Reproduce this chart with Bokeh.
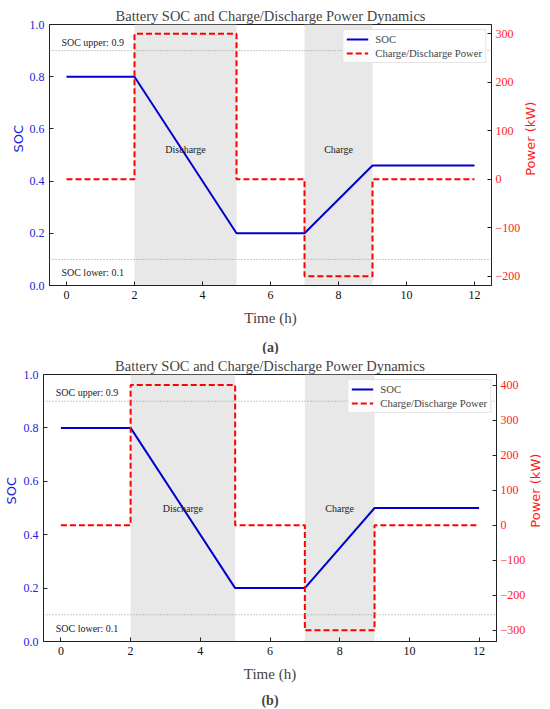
import math
from bokeh.plotting import figure
from bokeh.models import (Range1d, LinearAxis, FixedTicker, BoxAnnotation, Span,
                          Label, Title, Legend, LegendItem, PrintfTickFormatter)
from bokeh.layouts import column, row
from bokeh.core.properties import value
from bokeh.embed import file_html
from bokeh.resources import INLINE

# ---------------- data ----------------
hours = [0, 2, 5, 7, 9, 12]
soc_a = [0.8, 0.8, 0.2, 0.2, 0.46, 0.46]
soc_b = [0.8, 0.8, 0.2, 0.2, 0.5, 0.5]
power_a = [0, 300, 0, -200, 0, 0]      # step "after" values (kW)
power_b = [0, 400, 0, -300, 0, 0]
discharge_window = (2, 5)
charge_window = (7, 9)
soc_upper = 0.9
soc_lower = 0.1
x_ticks = [0, 2, 4, 6, 8, 10, 12]
soc_ticks = [0.0, 0.2, 0.4, 0.6, 0.8, 1.0]
power_ticks_a = [-200, -100, 0, 100, 200, 300]
power_ticks_b = [-300, -200, -100, 0, 100, 200, 300, 400]

SERIF = "Liberation Serif"
SANS = "DejaVu Sans"
BLUE = "#0000cc"
BLUE_T = "#2222dd"
RED = "#ff0000"
RED_T = "#ff1a1a"
FRAME = "#222222"
H = 354


def style_axis(ax, color, ticks, standoff=5):
    ax.ticker = FixedTicker(ticks=ticks)
    ax.major_tick_in = 4
    ax.major_tick_out = 0
    ax.minor_tick_line_color = None
    ax.major_tick_line_color = FRAME
    ax.axis_line_color = FRAME
    ax.major_label_text_font = SERIF
    ax.major_label_text_font_size = "12px"
    ax.major_label_text_color = color
    ax.major_label_standoff = standoff


def side_title(text, color, width, cx, cy):
    """narrow strip holding a vertical axis title that reads bottom-to-top"""
    f = figure(width=width, height=H, output_backend="svg", toolbar_location=None,
               x_range=Range1d(0, width), y_range=Range1d(0, H), min_border=0)
    f.axis.visible = False
    f.grid.visible = False
    f.outline_line_color = None
    f.text(x=[cx], y=[H - cy], text=[text], angle=math.pi / 2,
           text_align="center", text_baseline="middle",
           text_font=value(SANS), text_font_size=value("13px"), text_color=color)
    return f


def panel(soc, power, p_range, p_ticks, caption, width, borders, spacer, phase_y):
    left, right, top, bottom = borders
    p = figure(width=width, height=H, output_backend="svg", toolbar_location=None,
               x_range=Range1d(-0.5, 12.5), y_range=Range1d(0, 1),
               min_border_left=left, min_border_right=right,
               min_border_top=top, min_border_bottom=bottom)
    p.extra_y_ranges = {"power": Range1d(*p_range)}
    p.xgrid.visible = False
    p.ygrid.visible = False
    p.outline_line_color = FRAME
    p.outline_line_width = 1

    p.title.text = "Battery SOC and Charge/Discharge Power Dynamics"
    p.title.text_font = SERIF
    p.title.text_font_size = "14.5px"
    p.title.text_font_style = "normal"
    p.title.align = "center"
    p.title.vertical_align = "middle"
    p.title.standoff = 0

    for lo, hi in (discharge_window, charge_window):
        p.add_layout(BoxAnnotation(left=lo, right=hi, fill_color="#e8e8e8",
                                   fill_alpha=1.0, line_color=None, level="underlay"))

    for loc in (soc_upper, soc_lower):
        p.add_layout(Span(location=loc, dimension="width", line_color="#999999",
                          line_width=1, line_dash="1 2"))

    p.add_layout(Label(x=-0.15, y=soc_upper + 0.032, text=f"SOC upper: {soc_upper}",
                       text_font=SERIF, text_font_size="10px", text_baseline="middle",
                       text_color="#222222"))
    p.add_layout(Label(x=-0.15, y=soc_lower - 0.05, text=f"SOC lower: {soc_lower}",
                       text_font=SERIF, text_font_size="10px", text_baseline="middle",
                       text_color="#222222"))
    p.add_layout(Label(x=sum(discharge_window) / 2, y=phase_y, text="Discharge",
                       text_font=SERIF, text_font_size="10px", text_align="center",
                       text_baseline="middle", text_color="#222222"))
    p.add_layout(Label(x=sum(charge_window) / 2, y=phase_y, text="Charge",
                       text_font=SERIF, text_font_size="10px", text_align="center",
                       text_baseline="middle", text_color="#222222"))

    r_soc = p.line(hours, soc, line_color=BLUE, line_width=2)
    r_pow = p.step(hours, power, mode="after", line_color=RED, line_width=2,
                   line_dash="6 3", y_range_name="power")

    style_axis(p.xaxis[0], "#111111", x_ticks)
    p.xaxis.axis_label = "Time (h)"
    p.xaxis.axis_label_text_font = SERIF
    p.xaxis.axis_label_text_font_size = "15px"
    p.xaxis.axis_label_text_font_style = "normal"
    p.xaxis.axis_label_standoff = 8

    style_axis(p.yaxis[0], BLUE_T, soc_ticks)
    p.yaxis.formatter = PrintfTickFormatter(format="%.1f")

    rax = LinearAxis(y_range_name="power")
    style_axis(rax, RED_T, p_ticks, standoff=4)
    p.add_layout(rax, "right")

    leg = Legend(items=[LegendItem(label="SOC", renderers=[r_soc]),
                        LegendItem(label="Charge/Discharge Power", renderers=[r_pow])],
                 location="top_right")
    leg.margin = 5
    leg.padding = 3
    leg.spacing = 2
    leg.label_height = 12
    leg.glyph_height = 12
    leg.glyph_width = 22
    leg.label_standoff = 7
    leg.label_text_font = SERIF
    leg.label_text_font_size = "10.7px"
    leg.border_line_color = "#cccccc"
    leg.background_fill_alpha = 0.85
    p.add_layout(leg, "center")

    # spacer then the bold sub-figure caption
    p.add_layout(Title(text=" ", text_font_size="1px", standoff=spacer), "below")
    p.add_layout(Title(text=caption, align="center", text_font=SERIF,
                       text_font_size="14px", text_font_style="bold", standoff=0), "below")
    return p


# panel (a)
la = side_title("SOC", BLUE_T, 26, 18, 155)
pa = panel(soc_a, power_a, (-219, 319), power_ticks_a, "(a)", 497,
           (22, 31, 24, 68), 6, 0.52)
ra = side_title("Power (kW)", RED_T, 27, 7, 155)

# panel (b)
lb = side_title("SOC", BLUE_T, 20, 11, 154)
pb = panel(soc_b, power_b, (-332, 430), power_ticks_b, "(b)", 508,
           (23, 31, 20, 67), 3, 0.50)
rb = side_title("Power (kW)", RED_T, 22, 7, 154)

layout = column(row(la, pa, ra, spacing=0), row(lb, pb, rb, spacing=0), spacing=0)
open("out.html", "w").write(file_html(layout, INLINE))
